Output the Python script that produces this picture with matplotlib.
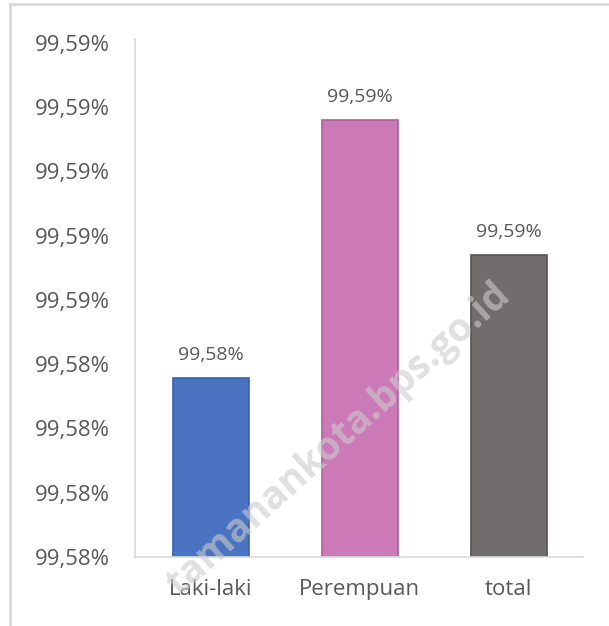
import matplotlib
matplotlib.use('Agg')
import matplotlib.pyplot as plt
from matplotlib.patches import Rectangle
from matplotlib.ticker import FuncFormatter

# 데이터
categories = ['Laki-laki', 'Perempuan', 'total']
values = [99.58439, 99.58640, 99.58535]
bar_colors = ['#4a74c2', '#cb7ab7', '#716d6d']
edge_colors = ['#3a62a8', '#b060a0', '#555252']
y_ticks = [99.5830, 99.5835, 99.5840, 99.5845, 99.5850,
           99.5855, 99.5860, 99.5865, 99.5870]

text_gray = '#595959'
line_gray = '#d9d9d9'


def pct(v, pos=None):
    return f"{round(v + 1e-9, 2):.2f}".replace('.', ',') + '%'


plt.rcParams['font.family'] = ['Open Sans', 'DejaVu Sans']

fig = plt.figure(figsize=(6.09, 6.26), dpi=100)
ax = fig.add_axes([135 / 609, 69 / 626, 448 / 609, 518 / 626])

ax.bar(range(len(categories)), values, width=0.51, color=bar_colors,
       edgecolor=edge_colors, linewidth=1.2, zorder=2)

# 막대 위 값 라벨
for i, v in enumerate(values):
    ax.annotate(pct(v), (i, v), xytext=(0, 10), textcoords='offset points',
                ha='center', va='bottom', fontsize=14, color=text_gray)

ax.set_xlim(-0.51, 2.5)
ax.set_ylim(y_ticks[0], 99.58703)
ax.set_yticks(y_ticks)
ax.yaxis.set_major_formatter(FuncFormatter(pct))
ax.set_xticks(range(len(categories)))
ax.set_xticklabels(categories)
ax.tick_params(axis='y', length=0, pad=18, labelsize=16, labelcolor=text_gray)
ax.tick_params(axis='x', length=0, pad=16, labelsize=16, labelcolor=text_gray)

for side in ['top', 'right']:
    ax.spines[side].set_visible(False)
for side in ['left', 'bottom']:
    ax.spines[side].set_color(line_gray)
    ax.spines[side].set_linewidth(1.2)

# 바깥 테두리
fig.add_artist(Rectangle((9.5 / 609, -0.01), 1.2, 1 - 3.5 / 626 + 0.01,
                         transform=fig.transFigure, fill=False,
                         edgecolor=line_gray, linewidth=2))

# 워터마크
fig.text(338 / 609, 1 - 440 / 626, 'tamanankota.bps.go.id', rotation=42,
         ha='center', va='center', fontsize=28, fontweight='bold',
         color='#cccccc', alpha=0.6, zorder=5)

fig.savefig('out.png', dpi=100)
